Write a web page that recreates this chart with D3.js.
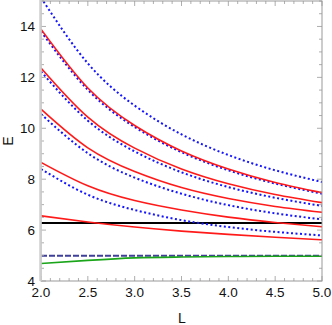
<!DOCTYPE html>
<html>
<head>
<meta charset="utf-8">
<script src="https://cdn.jsdelivr.net/npm/d3@7"></script>
<style>
    body { margin: 0; background: #fff; }
    text { font-family: "Liberation Sans", Arial, sans-serif; }
</style>
</head>
<body>
<div class="chart-holder"></div>
<script>
(function () {

    'use strict';

    // sample points along L
    var lValues = [2.0, 2.5, 3.0, 3.5, 4.0, 4.5, 5.0];

    // solid red levels, bottom to top
    var red1 = [6.56, 6.32, 6.12, 5.96, 5.83, 5.72, 5.62];
    var red2 = [8.66, 7.74, 7.16, 6.79, 6.51, 6.30, 6.13];
    var red3 = [10.75, 9.23, 8.30, 7.67, 7.24, 6.93, 6.70];
    var red4 = [12.37, 10.44, 9.22, 8.40, 7.82, 7.40, 7.08];
    var red5 = [13.89, 11.58, 10.11, 9.11, 8.40, 7.87, 7.47];

    // dotted blue levels, bottom to top
    var blue1 = [8.40, 7.39, 6.79, 6.39, 6.12, 5.93, 5.79];
    var blue2 = [10.56, 9.02, 8.06, 7.43, 6.98, 6.66, 6.42];
    var blue3 = [12.23, 10.30, 9.09, 8.27, 7.69, 7.27, 6.95];
    var blue4 = [13.80, 11.51, 10.05, 9.06, 8.35, 7.83, 7.43];
    var blue5 = [15.13, 12.55, 10.89, 9.76, 8.95, 8.35, 7.89];

    var green = [4.69, 4.81, 4.91, 4.94, 4.96, 4.97, 4.97];

    var blackLevel = 6.283;
    var dashedLevel = 4.99;

    var xTickLabels = [2.0, 2.5, 3.0, 3.5, 4.0, 4.5, 5.0];
    var yTickLabels = [4, 6, 8, 10, 12, 14];

    var width = 332;
    var height = 325;

    var plotLeft = 41, plotRight = 322, plotTop = 1, plotBottom = 281;

    var x = d3.scaleLinear().domain([2, 5]).range([plotLeft, plotRight]);
    var y = d3.scaleLinear().domain([4, 15]).range([plotBottom, plotTop]);

    var svg = d3.select('.chart-holder')
        .append('svg')
        .attr('width', width)
        .attr('height', height);

    svg.append('clipPath')
        .attr('id', 'plot-clip')
        .append('rect')
        .attr('x', plotLeft)
        .attr('y', plotTop)
        .attr('width', plotRight - plotLeft)
        .attr('height', plotBottom - plotTop);

    var curves = svg.append('g').attr('clip-path', 'url(#plot-clip)');

    var line = d3.line()
        .x(function (d) { return x(d[0]); })
        .y(function (d) { return y(d[1]); })
        .curve(d3.curveNatural);

    var toPoints = function (values) {
        return values.map(function (v, i) { return [lValues[i], v]; });
    };

    var flat = function (v) {
        return [[2, v], [5, v]];
    };

    // horizontal references
    curves.append('path')
        .attr('d', line(flat(dashedLevel)))
        .attr('fill', 'none')
        .attr('stroke', '#3f3f9a')
        .attr('stroke-width', 2)
        .attr('stroke-dasharray', '6,2');

    curves.append('path')
        .attr('d', line(toPoints(green)))
        .attr('fill', 'none')
        .attr('stroke', '#1aa51a')
        .attr('stroke-width', 1.6);

    curves.append('path')
        .attr('d', line(flat(blackLevel)))
        .attr('fill', 'none')
        .attr('stroke', '#000')
        .attr('stroke-width', 2);

    [blue1, blue2, blue3, blue4, blue5].forEach(function (s) {
        curves.append('path')
            .attr('d', line(toPoints(s)))
            .attr('fill', 'none')
            .attr('stroke', '#1414ff')
            .attr('stroke-width', 2)
            .attr('stroke-dasharray', '2,2.5');
    });

    [red1, red2, red3, red4, red5].forEach(function (s) {
        curves.append('path')
            .attr('d', line(toPoints(s)))
            .attr('fill', 'none')
            .attr('stroke', '#ff1a1a')
            .attr('stroke-width', 1.6);
    });

    // frame with inward ticks on all sides
    var frame = svg.append('g');

    var xMinor = d3.range(20, 51).map(function (v) { return v / 10; });
    var yMinor = d3.range(8, 31).map(function (v) { return v / 2; });

    xMinor.forEach(function (v) {
        var len = (Math.round(v * 10) % 5 === 0) ? 5 : 3;
        frame.append('line')
            .attr('x1', x(v)).attr('x2', x(v))
            .attr('y1', plotBottom).attr('y2', plotBottom - len)
            .attr('stroke', '#999').attr('stroke-width', 0.8);
        frame.append('line')
            .attr('x1', x(v)).attr('x2', x(v))
            .attr('y1', plotTop).attr('y2', plotTop + len)
            .attr('stroke', '#999').attr('stroke-width', 0.8);
    });

    yMinor.forEach(function (v) {
        var len = (v % 2 === 0) ? 5 : 3;
        frame.append('line')
            .attr('x1', plotLeft).attr('x2', plotLeft + len)
            .attr('y1', y(v)).attr('y2', y(v))
            .attr('stroke', '#999').attr('stroke-width', 0.8);
        frame.append('line')
            .attr('x1', plotRight).attr('x2', plotRight - len)
            .attr('y1', y(v)).attr('y2', y(v))
            .attr('stroke', '#999').attr('stroke-width', 0.8);
    });

    frame.append('rect')
        .attr('x', plotLeft)
        .attr('y', plotTop)
        .attr('width', plotRight - plotLeft)
        .attr('height', plotBottom - plotTop)
        .attr('fill', 'none')
        .attr('stroke', '#999')
        .attr('stroke-width', 1);

    frame.append('line')
        .attr('x1', plotLeft - 0.5).attr('x2', plotLeft - 0.5)
        .attr('y1', 0).attr('y2', plotBottom)
        .attr('stroke', '#cfcfcf')
        .attr('stroke-width', 2.5);

    // tick labels
    svg.selectAll('.x-label')
        .data(xTickLabels)
        .enter()
        .append('text')
        .attr('x', function (d) { return x(d); })
        .attr('y', 297)
        .attr('text-anchor', 'middle')
        .attr('font-size', 13.5)
        .attr('fill', '#111')
        .text(function (d) { return d.toFixed(1); });

    svg.selectAll('.y-label')
        .data(yTickLabels)
        .enter()
        .append('text')
        .attr('x', 35)
        .attr('y', function (d) { return y(d) + 5; })
        .attr('text-anchor', 'end')
        .attr('font-size', 13.5)
        .attr('fill', '#111')
        .text(function (d) { return d; });

    // axis titles
    svg.append('text')
        .attr('x', 182)
        .attr('y', 323)
        .attr('text-anchor', 'middle')
        .attr('font-size', 14)
        .attr('fill', '#111')
        .text('L');

    svg.append('text')
        .attr('transform', 'translate(13,141) rotate(-90)')
        .attr('text-anchor', 'middle')
        .attr('font-size', 14)
        .attr('fill', '#111')
        .text('E');

}());
</script>
</body>
</html>
